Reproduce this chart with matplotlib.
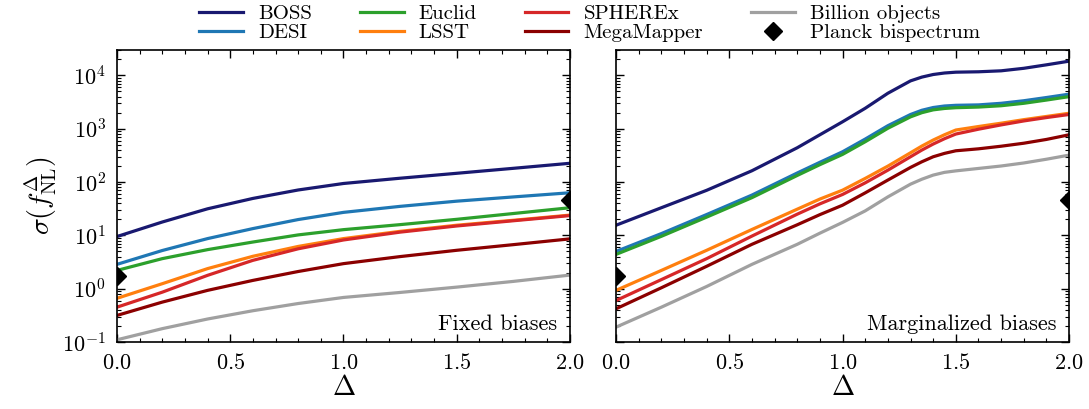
import numpy as np
import matplotlib
matplotlib.use("Agg")
import matplotlib.pyplot as plt

plt.rcParams['font.family'] = 'serif'
plt.rcParams['font.serif'] = ['cmr10']
plt.rcParams['mathtext.fontset'] = 'cm'
plt.rcParams['axes.formatter.use_mathtext'] = True
plt.rcParams['axes.unicode_minus'] = False

# sigma(f_NL^Delta) forecasts, fixed biases
delta_fixed = [0.0, 0.2, 0.4, 0.6, 0.8, 1.0, 1.25, 1.5, 1.75, 2.0]
boss_fixed = [9.5, 17.8, 31.5, 49.3, 71, 94, 118, 146, 181, 225]
desi_fixed = [2.86, 5.2, 8.7, 13.4, 19.8, 27, 35, 43.8, 52.6, 63]
euclid_fixed = [2.2, 3.66, 5.4, 7.5, 10.2, 12.8, 15.9, 20, 25.7, 33]
lsst_fixed = [0.66, 1.24, 2.38, 4.05, 6.2, 8.7, 11.9, 15.5, 19.2, 24]
spherex_fixed = [0.45, 0.86, 1.78, 3.4, 5.6, 8.2, 11.5, 15, 18.8, 23.5]
mega_fixed = [0.315, 0.56, 0.93, 1.43, 2.1, 2.95, 4.0, 5.25, 6.7, 8.6]
billion_fixed = [0.11, 0.178, 0.27, 0.386, 0.527, 0.685, 0.85, 1.07, 1.37, 1.8]

# marginalized biases
delta_marg = [0.0, 0.2, 0.4, 0.6, 0.8, 0.9, 1.0, 1.1, 1.2, 1.3, 1.35, 1.4, 1.45,
              1.5, 1.6, 1.7, 1.8, 1.9, 2.0]
boss_marg = [15.5, 33, 70, 163, 440, 771, 1350, 2420, 4630, 7900, 9300, 10400, 11100,
             11500, 11700, 12200, 13600, 15800, 18500]
desi_marg = [5.0, 10.8, 24.6, 57, 148, 235, 370, 640, 1140, 1850, 2220, 2500, 2670,
             2750, 2800, 3000, 3350, 3850, 4450]
euclid_marg = [4.4, 9.6, 22, 51, 133, 212, 330, 570, 1020, 1670, 2000, 2260, 2400,
               2480, 2550, 2700, 3000, 3450, 4000]
lsst_marg = [0.93, 2.2, 5.25, 12.9, 31, 48, 70.4, 117, 199, 354, 473, 613, 771,
             946, 1100, 1270, 1480, 1700, 1950]
spherex_marg = [0.60, 1.48, 3.66, 9.7, 25, 39, 58.5, 96.6, 167, 298, 398, 516, 650,
                795, 980, 1180, 1400, 1620, 1850]
mega_marg = [0.42, 1.04, 2.63, 6.8, 15.8, 24.5, 36.8, 62.7, 109, 188, 240, 298, 345,
             386, 420, 470, 535, 630, 770]
billion_marg = [0.19, 0.45, 1.1, 2.86, 6.8, 11.0, 17.5, 28.8, 52.7, 91.3, 113, 135, 152,
                162, 180, 200, 228, 268, 320]

# Planck bispectrum constraints (local at Delta=0, equilateral at Delta=2)
planck_delta = [0.0, 2.0]
planck_sigma = [1.7, 47]

names = ['BOSS', 'DESI', 'Euclid', 'LSST', 'SPHEREx', 'MegaMapper', 'Billion objects']
colors = ['#191970', '#1f77b4', '#2ca02c', '#ff7f0e', '#d62728', '#8b0000', '#a0a0a0']
fixed = [boss_fixed, desi_fixed, euclid_fixed, lsst_fixed, spherex_fixed, mega_fixed, billion_fixed]
marg = [boss_marg, desi_marg, euclid_marg, lsst_marg, spherex_marg, mega_marg, billion_marg]

fig = plt.figure(figsize=(10.89, 4.09), dpi=100)
ax1 = fig.add_axes([0.1074, 0.1638, 0.416, 0.714])
ax2 = fig.add_axes([0.5657, 0.1638, 0.416, 0.714], sharey=ax1)

panels = [(ax1, delta_fixed, fixed, 'Fixed biases'),
          (ax2, delta_marg, marg, 'Marginalized biases')]
for ax, x, series, label in panels:
    for name, c, y in zip(names, colors, series):
        ax.plot(x, y, color=c, lw=2.3, label=name)
    ax.plot(planck_delta, planck_sigma, 'kD', ms=9, label='Planck bispectrum')
    ax.set_yscale('log')
    ax.set_xlim(0, 2)
    ax.set_ylim(0.1, 3e4)
    ax.set_xticks([0, 0.5, 1.0, 1.5, 2.0])
    ax.set_xticks(np.arange(0, 2.01, 0.1), minor=True)
    ax.tick_params(which='both', direction='in', top=True, right=True, labelsize=16)
    ax.tick_params(which='major', length=6, width=1)
    ax.tick_params(which='minor', length=3, width=0.8)
    ax.tick_params(axis='x', which='major', pad=8)
    ax.tick_params(axis='y', which='major', pad=8)
    ax.set_xlabel(r'$\Delta$', fontsize=20, labelpad=1)
    ax.text(0.972, 0.041, label, transform=ax.transAxes, ha='right', va='baseline', fontsize=16)
    for s in ax.spines.values():
        s.set_linewidth(1.2)

ax1.set_ylabel(r'$\sigma(f_{\rm NL}^{\Delta})$', fontsize=20, labelpad=2)
plt.setp(ax2.get_yticklabels(), visible=False)

handles, labels = ax1.get_legend_handles_labels()
fig.legend(handles, labels, loc='upper left', bbox_to_anchor=(0.1735, 1.015), ncol=4,
           frameon=False, fontsize=15, handlelength=2.1, columnspacing=2.3,
           labelspacing=0.05, handletextpad=0.72, borderpad=0.0)

fig.savefig('out.png', dpi=100)
